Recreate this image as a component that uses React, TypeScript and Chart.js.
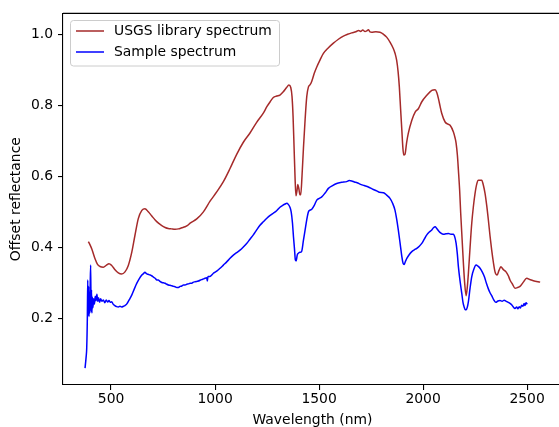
import { useEffect, useRef } from "react";
import { Chart, registerables } from "chart.js";

Chart.register(...registerables);

const usgsWavelength = [
  391, 399, 407, 415, 423, 435, 447, 463, 478, 490, 503, 519, 535, 551, 567, 583, 600, 615, 631, 648,
  663, 679, 695, 712, 728, 744, 760, 775, 790, 808, 824, 840, 856, 868, 880, 912, 944, 976, 1008, 1040,
  1072, 1104, 1136, 1168, 1200, 1232, 1249, 1265, 1280, 1296, 1312, 1328, 1344, 1355, 1364, 1370, 1375, 1380, 1385, 1389,
  1394, 1398, 1403, 1408, 1412, 1418, 1425, 1433, 1441, 1449, 1457, 1465, 1477, 1489, 1505, 1521, 1545, 1569, 1593, 1617,
  1637, 1657, 1677, 1690, 1700, 1710, 1721, 1730, 1737, 1745, 1753, 1773, 1793, 1810, 1825, 1841, 1857, 1866, 1873, 1880,
  1886, 1892, 1898, 1903, 1907, 1913, 1921, 1929, 1946, 1962, 1978, 1994, 2018, 2042, 2058, 2066, 2074, 2082, 2090, 2106,
  2120, 2130, 2146, 2154, 2159, 2165, 2170, 2176, 2181, 2188, 2194, 2200, 2207, 2213, 2218, 2226, 2234, 2242, 2250, 2258,
  2266, 2282, 2290, 2298, 2306, 2314, 2322, 2330, 2338, 2346, 2356, 2365, 2374, 2385, 2399, 2410, 2418, 2430, 2442, 2455,
  2466, 2482, 2498, 2515, 2530, 2563,
];
const usgsReflectance = [
  0.416, 0.407, 0.396, 0.382, 0.368, 0.352, 0.346, 0.344, 0.35, 0.354, 0.349, 0.337, 0.328, 0.325, 0.331, 0.349, 0.387, 0.434, 0.481, 0.504,
  0.509, 0.5, 0.489, 0.477, 0.468, 0.461, 0.456, 0.453, 0.452, 0.451, 0.452, 0.455, 0.458, 0.462, 0.468, 0.48, 0.5, 0.53, 0.556, 0.585,
  0.622, 0.662, 0.696, 0.722, 0.752, 0.778, 0.796, 0.81, 0.822, 0.826, 0.829, 0.838, 0.85, 0.857, 0.85, 0.825, 0.77, 0.68, 0.59, 0.545,
  0.56, 0.577, 0.565, 0.548, 0.548, 0.6, 0.68, 0.76, 0.825, 0.852, 0.858, 0.868, 0.89, 0.908, 0.928, 0.946, 0.962, 0.975, 0.986, 0.995,
  1.0, 1.004, 1.007, 1.011, 1.008, 1.012, 1.008, 1.01, 1.013, 1.007, 1.006, 1.007, 1.006, 1.0, 0.992, 0.978, 0.96, 0.945, 0.927, 0.895,
  0.852, 0.79, 0.73, 0.68, 0.66, 0.662, 0.695, 0.721, 0.758, 0.781, 0.791, 0.81, 0.828, 0.842, 0.844, 0.836, 0.819, 0.797, 0.777, 0.753,
  0.747, 0.744, 0.725, 0.708, 0.693, 0.66, 0.617, 0.56, 0.496, 0.42, 0.355, 0.3, 0.264, 0.29, 0.327, 0.4, 0.467, 0.515, 0.552, 0.578,
  0.589, 0.589, 0.575, 0.552, 0.518, 0.477, 0.432, 0.392, 0.358, 0.331, 0.322, 0.335, 0.345, 0.338, 0.331, 0.32, 0.308, 0.296, 0.285, 0.287,
  0.29, 0.302, 0.313, 0.309, 0.306, 0.302,
];

const sampleWavelength = [
  375, 380, 383, 386, 388, 390, 392, 394, 396, 398, 400, 402, 404, 406, 408, 410, 413, 416, 420, 424,
  428, 432, 436, 440, 445, 450, 456, 463, 470, 477, 484, 490, 497, 503, 510, 518, 527, 535, 543, 551,
  560, 567, 575, 587, 600, 612, 624, 636, 648, 656, 663, 670, 678, 688, 695, 704, 712, 720, 727, 735,
  744, 752, 760, 768, 776, 784, 792, 800, 808, 816, 824, 832, 840, 848, 856, 864, 872, 880, 888, 896,
  904, 912, 920, 930, 940, 952, 960, 963, 966, 975, 984, 992, 1000, 1008, 1024, 1040, 1056, 1072, 1088, 1104,
  1120, 1136, 1152, 1168, 1184, 1200, 1216, 1232, 1249, 1265, 1280, 1296, 1312, 1325, 1337, 1345, 1352, 1360, 1366, 1372,
  1377, 1382, 1386, 1390, 1395, 1400, 1408, 1416, 1425, 1433, 1441, 1449, 1457, 1465, 1477, 1489, 1501, 1513, 1529, 1545,
  1565, 1585, 1609, 1633, 1645, 1657, 1670, 1683, 1697, 1717, 1737, 1757, 1777, 1790, 1810, 1825, 1841, 1853, 1865, 1873,
  1881, 1890, 1898, 1904, 1909, 1915, 1922, 1934, 1946, 1958, 1970, 1982, 1994, 2006, 2018, 2030, 2042, 2050, 2058, 2066,
  2074, 2086, 2098, 2110, 2122, 2134, 2146, 2153, 2159, 2165, 2170, 2178, 2186, 2192, 2197, 2202, 2207, 2213, 2218, 2226,
  2234, 2244, 2255, 2264, 2274, 2285, 2295, 2305, 2314, 2322, 2330, 2340, 2350, 2360, 2370, 2380, 2390, 2400, 2410, 2418,
  2426, 2434, 2442, 2450, 2456, 2462, 2468, 2474, 2480, 2486, 2490, 2495, 2501,
];
const sampleReflectance = [
  0.06, 0.09, 0.116, 0.2, 0.308, 0.21, 0.29, 0.205, 0.27, 0.215, 0.3, 0.35, 0.22, 0.28, 0.215, 0.26, 0.23, 0.255, 0.24, 0.262,
  0.25, 0.268, 0.248, 0.258, 0.245, 0.255, 0.248, 0.252, 0.244, 0.252, 0.246, 0.25, 0.245, 0.247, 0.24, 0.236, 0.233, 0.232, 0.234, 0.232,
  0.234, 0.236, 0.24, 0.252, 0.266, 0.283, 0.299, 0.312, 0.322, 0.326, 0.33, 0.326, 0.324, 0.322, 0.32, 0.316, 0.313, 0.308, 0.308, 0.304,
  0.301, 0.3, 0.299, 0.296, 0.294, 0.293, 0.292, 0.29, 0.289, 0.287, 0.287, 0.29, 0.291, 0.294, 0.294, 0.296, 0.297, 0.299, 0.299, 0.302,
  0.303, 0.304, 0.305, 0.308, 0.31, 0.313, 0.314, 0.305, 0.318, 0.318, 0.322, 0.327, 0.33, 0.333, 0.341, 0.35, 0.359, 0.369, 0.378, 0.385,
  0.392, 0.401, 0.411, 0.423, 0.435, 0.449, 0.462, 0.472, 0.482, 0.49, 0.496, 0.503, 0.513, 0.518, 0.522, 0.524, 0.521, 0.513, 0.5, 0.47,
  0.43, 0.395, 0.365, 0.362, 0.378, 0.383, 0.386, 0.388, 0.42, 0.449, 0.478, 0.5, 0.505, 0.507, 0.518, 0.533, 0.538, 0.542, 0.553, 0.566,
  0.574, 0.58, 0.583, 0.585, 0.588, 0.587, 0.584, 0.582, 0.578, 0.574, 0.57, 0.564, 0.559, 0.555, 0.554, 0.547, 0.538, 0.525, 0.505, 0.48,
  0.449, 0.41, 0.374, 0.355, 0.352, 0.36, 0.369, 0.38, 0.388, 0.393, 0.397, 0.403, 0.411, 0.423, 0.435, 0.443, 0.449, 0.455, 0.458, 0.453,
  0.447, 0.44, 0.437, 0.438, 0.439, 0.437, 0.437, 0.428, 0.411, 0.38, 0.345, 0.305, 0.271, 0.245, 0.233, 0.225, 0.224, 0.232, 0.247, 0.285,
  0.317, 0.338, 0.35, 0.347, 0.341, 0.33, 0.317, 0.298, 0.283, 0.272, 0.264, 0.252, 0.245, 0.249, 0.25, 0.248, 0.251, 0.248, 0.245, 0.242,
  0.238, 0.232, 0.228, 0.232, 0.227, 0.233, 0.229, 0.237, 0.234, 0.242, 0.236, 0.244, 0.24,
];

const seriesLabels = ["USGS library spectrum", "Sample spectrum"];
const seriesColors = ["#a52a2a", "#0000ff"];
const xTickValues = [500, 1000, 1500, 2000, 2500];
const yTickValues = [0.2, 0.4, 0.6, 0.8, 1.0];
const xTitle = "Wavelength (nm)";
const yTitle = "Offset reflectance";

const FONT = "DejaVu Sans";
const FS = 13.9;

const toPoints = (xs: number[], ys: number[]) => xs.map((x, i) => ({ x, y: ys[i] }));

const framePlugin = {
  id: "frameAndLegend",
  afterDraw(chart: any) {
    const { ctx, chartArea: a } = chart;
    ctx.save();
    ctx.strokeStyle = "#000";
    ctx.lineWidth = 1.1;
    ctx.beginPath();
    ctx.moveTo(a.left, a.top);
    ctx.lineTo(a.right, a.top);
    ctx.lineTo(a.right, a.bottom);
    ctx.stroke();

    // legend box
    const lx = 70.5, ly = 20.5, lw = 209, lh = 45.5, r = 3;
    ctx.beginPath();
    ctx.moveTo(lx + r, ly);
    ctx.lineTo(lx + lw - r, ly);
    ctx.arcTo(lx + lw, ly, lx + lw, ly + r, r);
    ctx.lineTo(lx + lw, ly + lh - r);
    ctx.arcTo(lx + lw, ly + lh, lx + lw - r, ly + lh, r);
    ctx.lineTo(lx + r, ly + lh);
    ctx.arcTo(lx, ly + lh, lx, ly + lh - r, r);
    ctx.lineTo(lx, ly + r);
    ctx.arcTo(lx, ly, lx + r, ly, r);
    ctx.closePath();
    ctx.fillStyle = "rgba(255,255,255,0.8)";
    ctx.fill();
    ctx.strokeStyle = "#cccccc";
    ctx.lineWidth = 1;
    ctx.stroke();

    const rows = [31, 52];
    ctx.font = `${FS}px "${FONT}"`;
    ctx.textBaseline = "middle";
    ctx.textAlign = "left";
    rows.forEach((y, i) => {
      ctx.strokeStyle = seriesColors[i];
      ctx.lineWidth = 1.5;
      ctx.beginPath();
      ctx.moveTo(76, y);
      ctx.lineTo(104, y);
      ctx.stroke();
      ctx.fillStyle = "#000";
      ctx.fillText(seriesLabels[i], 114, y);
    });
    ctx.restore();
  },
};

export default function App() {
  const ref = useRef<HTMLCanvasElement>(null);

  useEffect(() => {
    if (!ref.current) return;
    const chart = new Chart(ref.current, {
      type: "line",
      data: {
        datasets: [
          {
            label: seriesLabels[0],
            data: toPoints(usgsWavelength, usgsReflectance),
            borderColor: seriesColors[0],
            borderWidth: 1.5,
            pointRadius: 0,
            fill: false,
            cubicInterpolationMode: "monotone",
          },
          {
            label: seriesLabels[1],
            data: toPoints(sampleWavelength, sampleReflectance),
            borderColor: seriesColors[1],
            borderWidth: 1.5,
            pointRadius: 0,
            fill: false,
            cubicInterpolationMode: "monotone",
          },
        ],
      },
      options: {
        animation: false,
        responsive: false,
        maintainAspectRatio: false,
        devicePixelRatio: 1,
        layout: { padding: { top: 13, right: 38, left: 0, bottom: 0 } },
        plugins: { legend: { display: false }, tooltip: { enabled: false } },
        scales: {
          x: {
            type: "linear",
            min: 269,
            max: 2668,
            afterBuildTicks: (s: any) => {
              s.ticks = xTickValues.map((value) => ({ value }));
            },
            afterFit: (s: any) => {
              s.height = 55;
            },
            grid: { drawOnChartArea: false, drawTicks: true, tickLength: 5, color: "#000", lineWidth: 1.1 },
            border: { display: true, color: "#000", width: 1.1 },
            ticks: {
              color: "#000",
              font: { family: FONT, size: FS },
              padding: 1,
              maxRotation: 0,
              autoSkip: false,
              callback: (v: any) => String(v),
            },
            title: {
              display: true,
              text: xTitle,
              color: "#000",
              font: { family: FONT, size: FS },
              padding: { top: 0, bottom: 11.5 },
            },
          },
          y: {
            type: "linear",
            min: 0.0123,
            max: 1.059,
            afterBuildTicks: (s: any) => {
              s.ticks = yTickValues.map((value) => ({ value }));
            },
            afterFit: (s: any) => {
              s.width = 63;
            },
            grid: { drawOnChartArea: false, drawTicks: true, tickLength: 5, color: "#000", lineWidth: 1.1 },
            border: { display: true, color: "#000", width: 1.1 },
            ticks: {
              color: "#000",
              font: { family: FONT, size: FS },
              padding: 5,
              autoSkip: false,
              callback: (v: any) => Number(v).toFixed(1),
            },
            title: {
              display: true,
              text: yTitle,
              color: "#000",
              font: { family: FONT, size: FS },
              padding: { top: 8.5, bottom: 0 },
            },
          },
        },
      },
      plugins: [framePlugin],
    });
    return () => chart.destroy();
  }, []);

  return (
    <div
      style={{
        position: "fixed",
        left: 0,
        top: 0,
        width: 559,
        height: 427,
        overflow: "hidden",
        background: "#fff",
      }}
    >
      <canvas ref={ref} width={600} height={440} style={{ display: "block", width: 600, height: 440 }} />
    </div>
  );
}
